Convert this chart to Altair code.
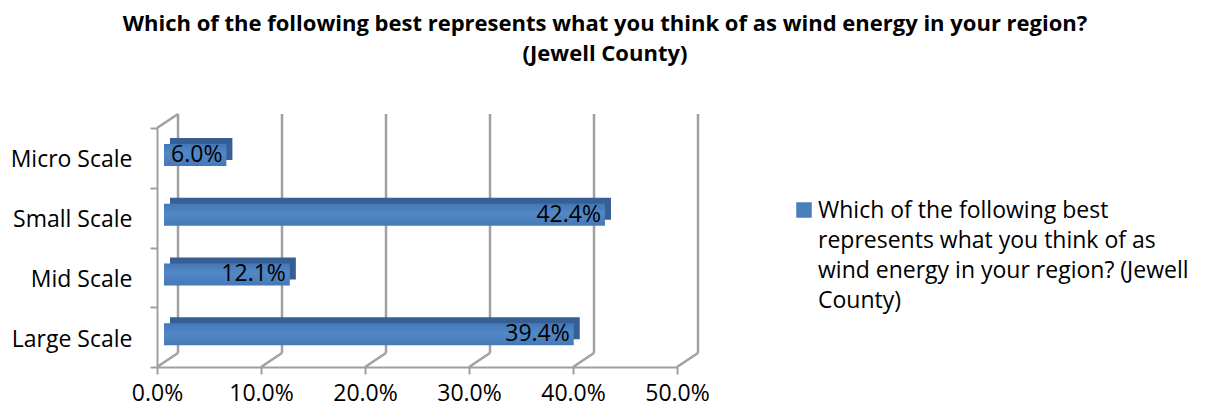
import altair as alt
import pandas as pd

categories = ["Micro Scale", "Small Scale", "Mid Scale", "Large Scale"]
values = [0.060, 0.424, 0.121, 0.394]
x_ticks = [0.0, 0.1, 0.2, 0.3, 0.4, 0.5]
series_name = "Which of the following best represents what you think of as wind energy in your region? (Jewell County)"
legend_lines = ["Which of the following best", "represents what you think of as", "wind energy in your region? (Jewell", "County)"]
title_lines = ["Which of the following best represents what you think of as wind energy in your region?", "(Jewell County)"]

FONT = "Open Sans"
FS = 23
W, H = 520, 239
DEPTH_X, DEPTH_Y = 21, 14
BAR_DX, BAR_DY = 7, -3
GRID = "#A0A0A0"
BLUE = "#4A7EBB"
BLUE_DARK = "#365F96"

df = pd.DataFrame({"cat": categories, "val": values, "series": [series_name] * 4})
grid_df = pd.DataFrame({"g": x_ticks})
leg_df = pd.DataFrame({"series": [series_name], "txt": ["\n".join(legend_lines)]})

y_enc = alt.Y("cat:N", sort=categories, title=None,
              scale=alt.Scale(paddingInner=0, paddingOuter=0),
              axis=alt.Axis(tickBand="extent", labelFontSize=FS, labelFont=FONT, labelColor="black",
                            domainColor=GRID, domainWidth=2, tickColor=GRID, tickWidth=2, tickSize=7,
                            labelPadding=18, grid=False, labelOffset=2))
x_scale = alt.Scale(domain=[0, 0.5], nice=False)
x_enc = alt.X("val:Q", scale=x_scale, title=None,
              axis=alt.Axis(values=x_ticks, format=".1%", labelFontSize=FS, labelFont=FONT, labelColor="black",
                            domainColor=GRID, domainWidth=2, tickColor=GRID, tickWidth=2, tickSize=7,
                            labelPadding=8, grid=False, labelFlush=False, labelOverlap=False))

base = alt.Chart(df)

# back-wall gridlines
back_grid = alt.Chart(grid_df).mark_rule(color=GRID, strokeWidth=2.5, xOffset=DEPTH_X).encode(
    x=alt.X("g:Q", scale=x_scale),
    y=alt.value(-DEPTH_Y), y2=alt.value(H - DEPTH_Y))
# floor diagonals
floor = alt.Chart(grid_df).mark_rule(color=GRID, strokeWidth=2.5, x2Offset=DEPTH_X).encode(
    x=alt.X("g:Q", scale=x_scale), x2="g:Q",
    y=alt.value(H), y2=alt.value(H - DEPTH_Y))
# side-wall top edge
side_top = alt.Chart(grid_df[grid_df.g == 0]).mark_rule(color=GRID, strokeWidth=2.5, x2Offset=DEPTH_X).encode(
    x=alt.X("g:Q", scale=x_scale), x2="g:Q",
    y=alt.value(0), y2=alt.value(-DEPTH_Y))

bar_depth = base.mark_bar(size=22, color=BLUE_DARK, xOffset=BAR_DX + 6, x2Offset=BAR_DX + 6,
                          yOffset=BAR_DY - 6, y2Offset=BAR_DY - 6).encode(x=x_enc, y=y_enc)
bar_front = base.mark_bar(size=22, xOffset=BAR_DX, x2Offset=BAR_DX, yOffset=BAR_DY, y2Offset=BAR_DY,
                          color=alt.Gradient(gradient="linear", x1=0, y1=0, x2=0, y2=1,
                                             stops=[alt.GradientStop(color="#4477B5", offset=0),
                                                    alt.GradientStop(color="#5288C6", offset=0.45),
                                                    alt.GradientStop(color="#4678B6", offset=1)])
                          ).encode(x=x_enc, y=y_enc)
labels = base.mark_text(align="right", baseline="middle", fontSize=FS, font=FONT, color="black",
                        xOffset=BAR_DX, dx=-4, yOffset=BAR_DY).encode(
    x=x_enc, y=y_enc, text=alt.Text("val:Q", format=".1%"))

leg_sym = alt.Chart(leg_df).mark_square(size=240, color=BLUE, opacity=1).encode(
    x=alt.value(647), y=alt.value(82))
leg_txt = alt.Chart(leg_df).mark_text(align="left", baseline="alphabetic", fontSize=FS, font=FONT,
                                      color="black", lineBreak="\n", lineHeight=30).encode(
    x=alt.value(661), y=alt.value(90), text="txt:N")

chart = alt.layer(back_grid, floor, side_top, bar_depth, bar_front, labels, leg_sym, leg_txt).properties(
    width=W, height=H,
    autosize=alt.AutoSizeParams(type="none"),
    padding={"left": 149, "top": 120, "right": 525, "bottom": 39},
    title=alt.TitleParams(text=title_lines, fontSize=22, font=FONT, fontWeight="bold", color="black",
                          anchor="middle", frame="group", dx=188, offset=47, lineHeight=30),
).configure_view(stroke=None)

chart.save("out.html", embed_options={"renderer": "svg", "actions": False})
